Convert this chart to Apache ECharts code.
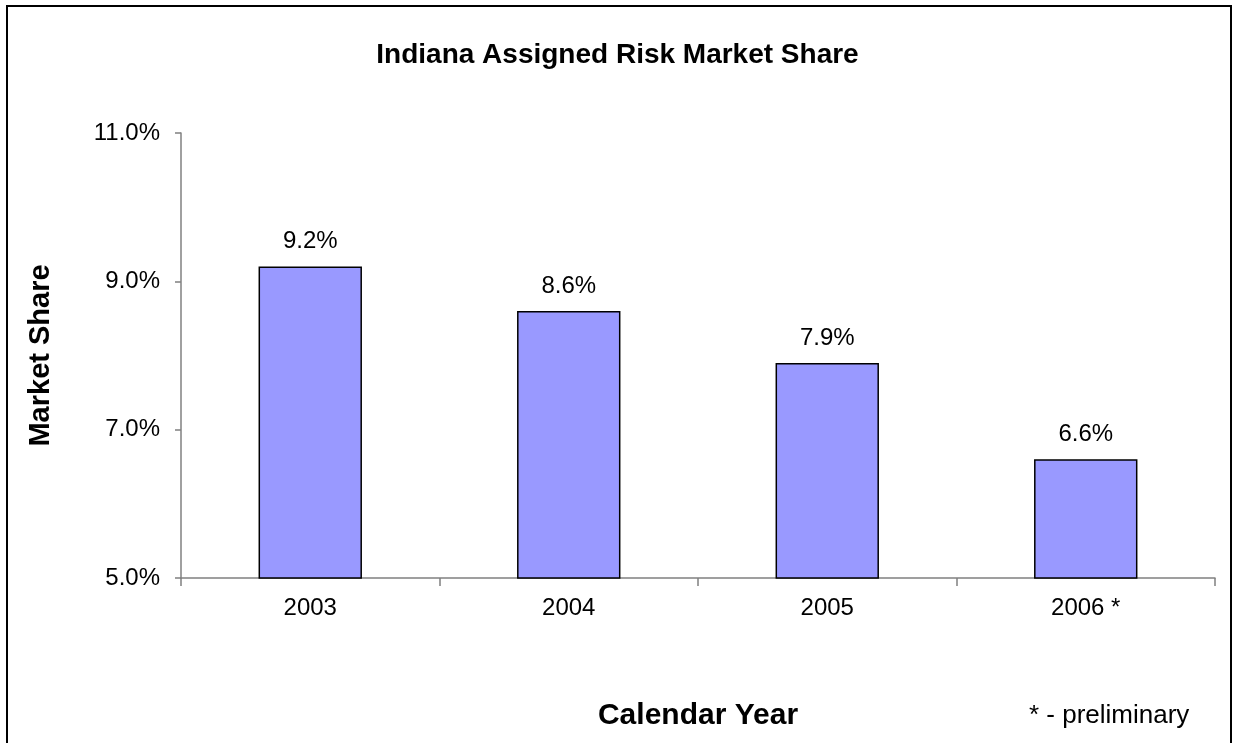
<!DOCTYPE html>
<html>
<head>
<meta charset="utf-8">
<script src="https://cdn.jsdelivr.net/npm/echarts@6/dist/echarts.min.js"></script>
<style>
  html, body { margin: 0; padding: 0; background: #fff; }
  #chart { width: 1235px; height: 743px; }
</style>
</head>
<body>
<div id="chart"></div>
<script>
const years = ["2003", "2004", "2005", "2006 *"];
const shares = [9.2, 8.6, 7.9, 6.6];
const yTicks = [5, 7, 9, 11];

const chart = echarts.init(document.getElementById("chart"));
chart.setOption({
    animation: false,
    textStyle: { fontFamily: "Liberation Sans, Arial, sans-serif" },
    graphic: [
        {
            type: "rect",
            shape: { x: 7, y: 6, width: 1224, height: 800 },
            style: { fill: "none", stroke: "#000", lineWidth: 2 },
            silent: true
        },
        {
            type: "text",
            left: 1029,
            top: 703,
            style: { text: "* - preliminary", font: "26px Liberation Sans, Arial, sans-serif", fill: "#000" }
        }
    ],
    title: {
        text: "Indiana Assigned Risk Market Share",
        left: "center",
        top: 36,
        textStyle: { fontSize: 28, fontWeight: "bold", color: "#000" }
    },
    grid: { left: 181, right: 20, top: 133, bottom: 165, containLabel: false },
    xAxis: {
        type: "category",
        data: years,
        name: "Calendar Year",
        nameLocation: "middle",
        nameGap: 123,
        nameTextStyle: { fontSize: 30, fontWeight: "bold", color: "#000" },
        axisLine: { lineStyle: { color: "#808080", width: 1.5 } },
        axisTick: { show: true, alignWithLabel: false, length: 8, lineStyle: { color: "#808080", width: 1.5 } },
        axisLabel: { fontSize: 24, color: "#000", margin: 18 }
    },
    yAxis: {
        type: "value",
        min: yTicks[0],
        max: yTicks[yTicks.length - 1],
        interval: 2,
        name: "Market Share",
        nameLocation: "middle",
        nameGap: 126,
        nameTextStyle: { fontSize: 29, fontWeight: "bold", color: "#000" },
        axisLine: { show: true, lineStyle: { color: "#808080", width: 1.5 } },
        axisTick: { show: true, inside: false, length: 6, lineStyle: { color: "#808080", width: 1.5 } },
        splitLine: { show: false },
        axisLabel: {
            fontSize: 24,
            color: "#000",
            margin: 21,
            formatter: v => v.toFixed(1) + "%"
        }
    },
    series: [
        {
            type: "bar",
            data: shares,
            barWidth: "40%",
            itemStyle: { color: "#9999FF", borderColor: "#000", borderWidth: 1.5 },
            label: {
                show: true,
                position: "top",
                distance: 13,
                fontSize: 24,
                color: "#000",
                formatter: p => p.value.toFixed(1) + "%"
            }
        }
    ]
});
</script>
</body>
</html>
